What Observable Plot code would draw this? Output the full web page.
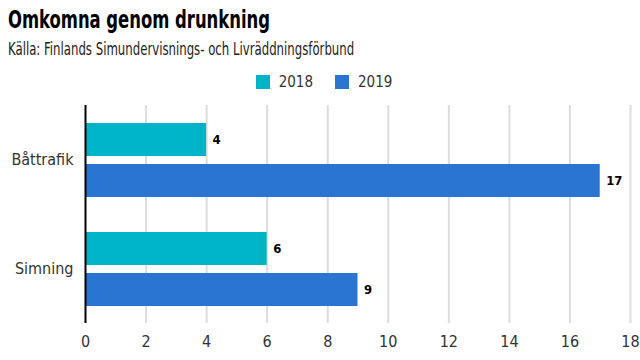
<!DOCTYPE html>
<html><head><meta charset="utf-8">
<script src="https://cdn.jsdelivr.net/npm/d3@7"></script>
<script src="https://cdn.jsdelivr.net/npm/@observablehq/plot@0.6"></script>
<style>
body{margin:0;background:#fff;font-family:"DejaVu Sans Condensed",sans-serif;}
#wrap{width:640px;height:360px;position:relative;overflow:hidden;}
h1{margin:0;position:absolute;left:8px;top:5px;font-size:25px;font-weight:bold;color:#000;white-space:nowrap;transform:scaleX(0.73);transform-origin:left top;}
.sub{position:absolute;left:8px;top:39px;font-size:17px;color:#222;white-space:nowrap;transform:scaleX(0.767);transform-origin:left top;}
.legend{position:absolute;top:73px;left:4px;width:640px;display:flex;justify-content:center;gap:22px;font-size:15px;color:#333;}
.legend span{display:flex;align-items:center;}
.legend i{display:inline-block;width:14px;height:14px;margin-right:9px;}
#chart{position:absolute;left:0;top:95px;}
</style></head>
<body><div id="wrap">
<h1>Omkomna genom drunkning</h1>
<div class="sub">Källa: Finlands Simundervisnings- och Livräddningsförbund</div>
<div class="legend" id="legend"></div>
<div id="chart"></div>
</div>
<script>
const categories = ["Båttrafik", "Simning"];
const years = ["2018", "2019"];
const values2018 = [4, 6];
const values2019 = [17, 9];
const xTicks = [0, 2, 4, 6, 8, 10, 12, 14, 16, 18];
const colors = ["#00b4c8", "#2975d1"];

const data = [];
categories.forEach((c, i) => {
  data.push({category: c, year: years[0], value: values2018[i]});
  data.push({category: c, year: years[1], value: values2019[i]});
});

const leg = document.getElementById("legend");
years.forEach((y, i) => {
  const s = document.createElement("span");
  s.innerHTML = `<i style="background:${colors[i]}"></i>${y}`;
  leg.appendChild(s);
});

const font = '"DejaVu Sans Condensed",sans-serif';
const chart = Plot.plot({
  width: 640,
  height: 265,
  marginLeft: 85,
  marginRight: 10,
  marginTop: 9,
  marginBottom: 37,
  style: {fontFamily: font, fontSize: "16px", color: "#333", background: "#fff"},
  x: {domain: [0, 18], ticks: xTicks, label: null, tickSize: 0, tickPadding: 12},
  fy: {domain: categories, padding: 0, label: null, tickSize: 0, tickPadding: 12, axis: "left"},
  y: {domain: years, paddingInner: 0.2, paddingOuter: 0.4, axis: null},
  color: {domain: years, range: colors},
  marks: [
    Plot.ruleX(xTicks.slice(1), {stroke: "#dddddd", strokeWidth: 2}),
    Plot.barX(data, {fy: "category", y: "year", x: "value", fill: "year"}),
    Plot.text(data, {fy: "category", y: "year", x: "value", text: d => String(d.value), dx: 6, textAnchor: "start", fontWeight: "bold", fontSize: 13, fill: "#000"}),
    Plot.ruleX([0], {stroke: "#000", strokeWidth: 2})
  ]
});
document.getElementById("chart").appendChild(chart);
</script>
</body></html>
